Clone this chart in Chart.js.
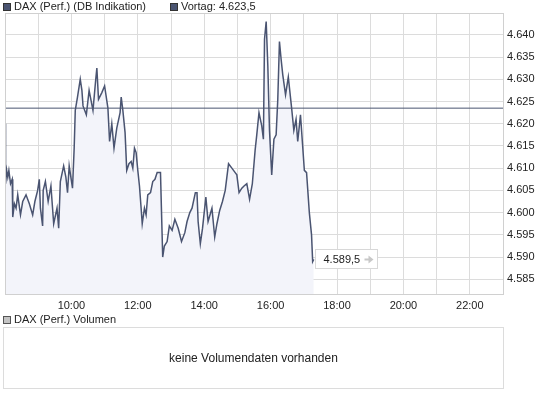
<!DOCTYPE html>
<html>
<head>
<meta charset="utf-8">
<script src="https://cdn.jsdelivr.net/npm/chart.js@4.4.0/dist/chart.umd.min.js"></script>
<style>
  body { margin: 0; background: #fff; font-family: "Liberation Sans", Arial, sans-serif; font-size: 11px; color: #222; }
  #wrap { position: relative; width: 545px; height: 395px; overflow: hidden; }
  #price { position: absolute; left: 0; top: 0; }
  .leg { position: absolute; height: 13px; line-height: 13px; white-space: nowrap; }
  .sq { display: inline-block; width: 8px; height: 8px; box-sizing: border-box; border: 1px solid #333; vertical-align: -1px; margin-right: 3px; }
  #vol { position: absolute; left: 3px; top: 327px; width: 501px; height: 62px; box-sizing: border-box; border: 1px solid #dcdcdc; text-align: center; line-height: 60px; font-size: 12px; }
</style>
</head>
<body>
<div id="wrap">
  <canvas id="price" width="545" height="314"></canvas>
  <div class="leg" style="left:3px;top:0px"><span class="sq" style="background:#4a5471"></span>DAX (Perf.) (DB Indikation)</div>
  <div class="leg" id="prevLeg" style="left:170px;top:0px"><span class="sq" style="background:#4a5471"></span><span id="prevText"></span></div>
  <div class="leg" style="left:3px;top:313px"><span class="sq" style="background:#c4c4c4;border-color:#555"></span>DAX (Perf.) Volumen</div>
  <div id="vol">keine Volumendaten vorhanden</div>
</div>
<script>
// intraday quotes (DB Indikation)
const times = [
  '08:00','08:01','08:03','08:05','08:07','08:10','08:13','08:14','08:17','08:20',
  '08:23','08:28','08:32','08:38','08:44','08:50','08:54','08:59','09:02','09:04',
  '09:08','09:09','09:13','09:18','09:23','09:28','09:34','09:37','09:40','09:46',
  '09:50','09:53','09:56','10:02','10:05','10:07','10:11','10:16','10:19','10:21',
  '10:27','10:32','10:39','10:44','10:46','10:49','10:55','11:00','11:06','11:09',
  '11:13','11:17','11:22','11:28','11:30','11:33','11:37','11:40','11:44','11:48',
  '11:51','11:54','11:57','12:00','12:03','12:06','12:08','12:12','12:15','12:18',
  '12:23','12:27','12:31','12:35','12:41','12:43','12:45','12:48','12:53','12:57',
  '13:02','13:07','13:13','13:19','13:25','13:29','13:34','13:38','13:44','13:47',
  '13:49','13:53','13:57','14:03','14:07','14:14','14:19','14:23','14:28','14:33',
  '14:38','14:44','14:50','14:56','14:59','15:03','15:08','15:12','15:17','15:22',
  '15:27','15:32','15:35','15:39','15:44','15:47','15:49','15:52','15:55','15:58',
  '16:02','16:06','16:10','16:13','16:16','16:19','16:22','16:27','16:32','16:38',
  '16:42','16:46','16:49','16:54','17:01','17:05','17:10','17:14','17:16','17:18'
];
const values = [
  4620, 4606.5, 4609.5, 4608, 4609.5, 4606.5, 4607.5, 4599, 4602, 4601,
  4604, 4599.5, 4602.5, 4604, 4602, 4599.5, 4602.5, 4605, 4607.5, 4601,
  4597, 4605, 4607, 4602.5, 4606, 4597.5, 4601, 4596.5, 4607, 4610.5,
  4608, 4604.5, 4610.5, 4605.5, 4614.5, 4623, 4626, 4630, 4627.5, 4624,
  4622, 4627.5, 4623, 4630, 4632.5, 4625.5, 4627, 4628.5, 4623.5, 4616,
  4620, 4614.5, 4619, 4622.5, 4626, 4623, 4618, 4609.5, 4611, 4611.5,
  4610, 4614.5, 4613.5, 4609.5, 4606, 4601, 4597.5, 4601, 4599.5, 4604,
  4604.5, 4607, 4607.5, 4609, 4609, 4599.5, 4590, 4592.5, 4593.5, 4597,
  4596, 4598.5, 4596.5, 4593.5, 4595.5, 4598, 4600, 4601, 4604.5, 4604.5,
  4598, 4593, 4596.5, 4603.5, 4598, 4601, 4594.5, 4597.5, 4600.5, 4602.5,
  4605, 4611, 4610, 4609, 4608.5, 4604.5, 4605.5, 4606, 4606.5, 4603,
  4606.5, 4614, 4617.5, 4622.5, 4619.5, 4616.5, 4639, 4643, 4633, 4618.5,
  4608.5, 4616.5, 4617.5, 4625.5, 4638.5, 4634.5, 4631, 4626.5, 4630.5, 4623.5,
  4618.5, 4621, 4616, 4622, 4609.5, 4609, 4600, 4595, 4589, 4589.5
];
const prevClose = 4623.5;
const yTicks = [4585, 4590, 4595, 4600, 4605, 4610, 4615, 4620, 4625, 4630, 4635, 4640];
const xTickLabels = ['10:00', '12:00', '14:00', '16:00', '18:00', '20:00', '22:00'];

const lineColor = '#4a5471';
const gridColor = '#dcdcdc';

function fmt(v, d) {
  const parts = v.toFixed(d).split('.');
  const int = parts[0].replace(/\B(?=(\d{3})+(?!\d))/g, '.');
  return parts[1] ? int + ',' + parts[1] : int;
}
function toMinutes(s) {
  const [h, m] = s.split(':').map(Number);
  return (h - 8) * 60 + m;
}

document.getElementById('prevText').textContent = 'Vortag: ' + fmt(prevClose, 1);

Chart.defaults.font.family = '"Liberation Sans", Arial, sans-serif';
Chart.defaults.font.size = 11;
Chart.defaults.color = '#222';

const frame = {
  id: 'frame',
  afterDatasetsDraw(chart) {
    const { ctx, chartArea: a } = chart;
    ctx.save();
    ctx.strokeStyle = '#d0d0d0';
    ctx.lineWidth = 1;
    ctx.strokeRect(Math.round(a.left) + 0.5, Math.round(a.top) + 0.5,
      Math.round(a.right - a.left), Math.round(a.bottom - a.top));

    // last price box
    const pts = chart.getDatasetMeta(0).data;
    const last = pts[pts.length - 1];
    const bx = Math.round(last.x) + 1.5, by = Math.round(last.y) - 9.5;
    ctx.fillStyle = '#fff';
    ctx.fillRect(bx, by, 62, 19);
    ctx.strokeStyle = '#d8d8d8';
    ctx.strokeRect(bx, by, 62, 19);
    ctx.fillStyle = '#222';
    ctx.font = '11px "Liberation Sans", Arial, sans-serif';
    ctx.textBaseline = 'middle';
    ctx.textAlign = 'left';
    ctx.fillText(fmt(values[values.length - 1], 1), bx + 8, by + 10);
    // small grey arrow
    const ax = bx + 49, ay = by + 10;
    ctx.fillStyle = '#c8c8c8';
    ctx.fillRect(ax, ay - 1, 5, 2);
    ctx.beginPath();
    ctx.moveTo(ax + 4, ay - 4);
    ctx.lineTo(ax + 9, ay);
    ctx.lineTo(ax + 4, ay + 4);
    ctx.closePath();
    ctx.fill();
    ctx.restore();
  }
};

new Chart(document.getElementById('price'), {
  type: 'line',
  data: {
    datasets: [{
      label: 'DAX (Perf.) (DB Indikation)',
      data: times.map((t, i) => ({ x: toMinutes(t), y: values[i] })),
      borderColor: lineColor,
      borderWidth: 1.5,
      backgroundColor: '#f3f4fa',
      fill: 'start',
      pointRadius: 0,
      tension: 0
    }, {
      label: 'Vortag',
      data: [{ x: 0, y: prevClose }, { x: 900, y: prevClose }],
      borderColor: lineColor,
      borderWidth: 1,
      pointRadius: 0,
      fill: false
    }]
  },
  options: {
    responsive: false,
    animation: false,
    layout: { padding: { top: 13, left: 3, right: 0, bottom: 0 } },
    plugins: {
      legend: { display: false },
      tooltip: { enabled: false },
      filler: { drawTime: 'beforeDatasetsDraw' }
    },
    scales: {
      x: {
        type: 'linear',
        min: 0,
        max: 900,
        afterBuildTicks(scale) {
          scale.ticks = [];
          for (let h = 8; h <= 23; h++) scale.ticks.push({ value: (h - 8) * 60 });
        },
        afterFit(scale) { scale.height = 20; },
        grid: { color: gridColor, drawTicks: false, tickLength: 0 },
        border: { color: '#d0d0d0' },
        ticks: {
          autoSkip: false,
          maxRotation: 0,
          padding: 5,
          callback(v) {
            const h = 8 + v / 60;
            const lab = (h < 10 ? '0' : '') + h + ':00';
            return xTickLabels.includes(lab) ? lab : '';
          }
        }
      },
      y: {
        position: 'right',
        min: 4581.7,
        max: 4644.9,
        afterBuildTicks(scale) {
          scale.ticks = yTicks.map(v => ({ value: v }));
        },
        afterFit(scale) { scale.width = 42; },
        grid: { color: gridColor, drawTicks: false, tickLength: 0 },
        border: { color: '#d0d0d0' },
        ticks: {
          padding: 4,
          callback: v => fmt(v, 0)
        }
      }
    }
  },
  plugins: [frame]
});
</script>
</body>
</html>
